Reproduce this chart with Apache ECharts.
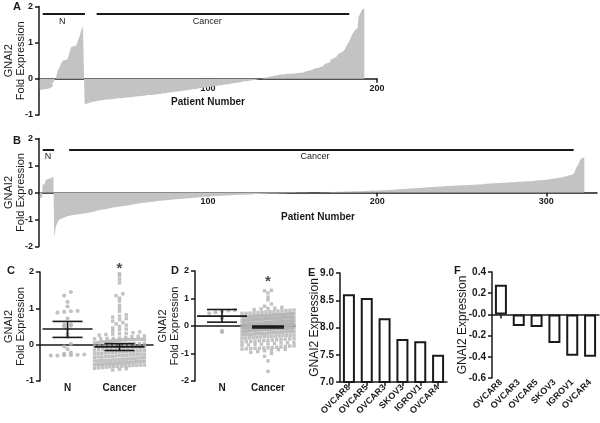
<!DOCTYPE html>
<html><head><meta charset="utf-8">
<script src="https://cdn.jsdelivr.net/npm/echarts@6/dist/echarts.min.js"></script>
<style>html,body{margin:0;padding:0;background:#fff}#c{width:600px;height:423px}</style>
</head><body><div id="c"></div>
<script>
// ---------- data ----------
// Panel A (cohort 1): sorted fold expression per patient
const aNormal = [-0.30,-0.30,-0.29,-0.29,-0.28,-0.27,-0.25,-0.22,-0.12,-0.05,0.02,0.22,0.30,0.42,0.50,0.52,0.55,0.56,0.72,0.88,0.90,0.92,0.93,1.05,1.18,1.35,1.45];
const aCancer = [
 -0.70,-0.68,-0.66,-0.65,-0.64,-0.63,-0.62,-0.61,-0.60,-0.60,-0.59,-0.58,-0.58,
 -0.57,-0.57,-0.56,-0.56,-0.55,-0.55,-0.54,-0.54,-0.53,-0.53,-0.52,-0.52,-0.51,-0.51,-0.50,-0.50,-0.49,-0.49,-0.48,-0.48,
 -0.47,-0.47,-0.46,-0.46,-0.45,-0.45,-0.44,-0.44,-0.43,-0.43,-0.42,-0.42,-0.41,-0.40,-0.40,-0.39,-0.38,-0.38,-0.37,-0.36,
 -0.36,-0.35,-0.34,-0.34,-0.33,-0.32,-0.32,-0.31,-0.30,-0.30,-0.29,-0.28,-0.28,-0.27,-0.26,-0.26,-0.25,-0.24,-0.24,-0.23,
 -0.22,-0.22,-0.21,-0.20,-0.20,-0.19,-0.18,-0.18,-0.17,-0.16,-0.16,-0.15,-0.14,-0.13,-0.13,-0.12,-0.11,-0.10,-0.10,-0.09,
 -0.08,-0.07,-0.07,-0.06,-0.05,-0.04,-0.04,-0.03,-0.02,-0.01,0.00,0.01,0.02,0.03,0.04,
 0.05,0.06,0.07,0.08,0.09,0.10,0.11,0.12,0.12,0.13,0.13,0.14,0.14,0.14,0.15,
 0.15,0.15,0.16,0.16,0.17,0.17,0.18,0.20,0.22,0.23,0.24,0.26,0.28,0.29,0.30,
 0.31,0.33,0.35,0.38,0.41,0.43,0.46,0.50,0.54,0.57,0.61,0.65,0.69,0.72,0.76,
 0.79,0.82,0.92,1.00,1.08,1.20,1.28,1.35,1.40,1.70,1.80,1.90,1.95];
// Panel B (cohort 2)
const bNormal = [-0.22,-0.18,0.28,0.33,0.46,0.50,0.53,0.56,0.58];
const bCancer = [
 -1.65,-1.27,-1.10,-1.00,-0.96,-0.93,-0.90,-0.88,-0.86,-0.85,
 -0.84,-0.83,-0.82,-0.81,-0.81,-0.80,-0.79,-0.78,-0.77,-0.76,
 -0.74,-0.73,-0.72,-0.70,-0.69,-0.67,-0.66,-0.65,-0.63,-0.62,
 -0.61,-0.60,-0.58,-0.57,-0.56,-0.55,-0.54,-0.53,-0.52,-0.51,
 -0.50,-0.49,-0.48,-0.47,-0.46,-0.45,-0.44,-0.43,-0.42,-0.41,
 -0.40,-0.39,-0.38,-0.38,-0.37,-0.36,-0.35,-0.34,-0.34,-0.33,
 -0.32,-0.31,-0.31,-0.30,-0.30,-0.29,-0.28,-0.28,-0.27,-0.27,
 -0.26,-0.25,-0.25,-0.24,-0.24,-0.23,-0.22,-0.22,-0.21,-0.21,
 -0.20,-0.20,-0.19,-0.19,-0.18,-0.18,-0.17,-0.17,-0.16,-0.16,
 -0.15,-0.15,-0.14,-0.14,-0.14,-0.13,-0.13,-0.12,-0.12,-0.12,
 -0.11,-0.11,-0.11,-0.10,-0.10,-0.10,-0.09,-0.09,-0.09,-0.08,
 -0.08,-0.08,-0.08,-0.07,-0.07,-0.07,-0.07,-0.06,-0.06,-0.06,
 -0.06,-0.06,-0.05,-0.05,-0.05,-0.05,-0.05,-0.04,-0.04,-0.04,
 -0.04,-0.04,-0.03,-0.03,-0.03,-0.03,-0.03,-0.02,-0.02,-0.02,
 -0.02,-0.02,-0.02,-0.01,-0.01,-0.01,-0.01,-0.01,-0.01,-0.01,
 -0.01,0.00,0.00,0.00,0.00,0.00,0.01,0.01,0.01,0.01,
 0.01,0.01,0.02,0.02,0.02,0.02,0.03,0.03,0.03,0.03,
 0.03,0.04,0.04,0.04,0.04,0.04,0.05,0.05,0.05,0.05,
 0.05,0.05,0.06,0.06,0.06,0.06,0.06,0.07,0.07,0.07,
 0.07,0.07,0.08,0.08,0.08,0.09,0.09,0.09,0.10,0.10,
 0.10,0.11,0.11,0.12,0.12,0.13,0.13,0.14,0.14,0.15,
 0.15,0.15,0.16,0.16,0.17,0.17,0.17,0.18,0.18,0.19,
 0.19,0.19,0.20,0.20,0.20,0.21,0.21,0.22,0.22,0.22,
 0.23,0.23,0.24,0.24,0.24,0.25,0.25,0.26,0.26,0.26,
 0.27,0.27,0.27,0.28,0.28,0.28,0.29,0.29,0.29,0.30,
 0.30,0.30,0.31,0.31,0.32,0.32,0.32,0.33,0.33,0.34,
 0.34,0.34,0.35,0.35,0.36,0.36,0.36,0.37,0.37,0.38,
 0.38,0.38,0.39,0.39,0.40,0.40,0.40,0.41,0.41,0.42,
 0.42,0.42,0.43,0.43,0.44,0.44,0.45,0.45,0.46,0.46,
 0.47,0.48,0.49,0.50,0.51,0.52,0.53,0.54,0.55,0.56,
 0.57,0.58,0.60,0.62,0.64,0.65,0.68,0.72,0.80,0.95,
 1.05,1.20,1.28,1.30];
// group annotations above waterfalls (patient ranges, label positions)
const groupNames = ['N','Cancer'];
const aGroupStart = [2.2, 34.1], aGroupEnd = [27.2, 183.6], aGroupLabelX = [13.8, 99.5], aGroupLevel = 1.79;
const bGroupStart = [2.2, 17.8], bGroupEnd = [8.9, 316.2], bGroupLabelX = [5.3, 163.2], bGroupLevel = 1.574;
const aTicks = [100, 200], bTicks = [100, 200, 300];
// Panels C / D: mean with error bars
const cMean = [0.43, -0.06], cLower = [0.20, -0.16], cUpper = [0.64, 0.03];
const dMean = [0.36, -0.03], dLower = [0.14, -0.07], dUpper = [0.60, 0.00];
const cStarY = 2.1, dStarY = 1.62;
// Panels E / F
const eCells = ['OVCAR8','OVCAR5','OVCAR3','SKOV3','IGROV1','OVCAR4'];
const eValues = [8.61, 8.54, 8.17, 7.79, 7.75, 7.50];
const fCells = ['OVCAR8','OVCAR3','OVCAR5','SKOV3','IGROV1','OVCAR4'];
const fValues = [0.28, -0.11, -0.12, -0.27, -0.39, -0.40];

// ---------- helpers ----------
const FONT = '"Liberation Sans", Arial, sans-serif';
const INK = '#1a1a1a';
const BAR = '#c3c3c3';
const DOT = '#b3b3b3';

// one bar per patient, centred on its patient slot
function waterfall(normal, cancer) {
  return normal.concat(cancer).map((v, i) => [i + 0.5, v]);
}
// column-scatter layout: points in the same value row are spread sideways
function swarm(values, center, rowH, step, maxW) {
  const rows = new Map();
  values.forEach(v => { const k = Math.round(v / rowH); if (!rows.has(k)) rows.set(k, []); rows.get(k).push(v); });
  const out = [];
  rows.forEach(r => {
    const n = r.length;
    const s = n > 1 ? Math.min(step, maxW / (n - 1)) : 0;
    r.forEach((v, j) => out.push([center + (j - (n - 1) / 2) * s, v]));
  });
  return out;
}
function groupSeries(xi, yi, starts, ends, level, labelXs) {
  return {
    type: 'custom', xAxisIndex: xi, yAxisIndex: yi, clip: false, silent: true, z: 6,
    data: starts.map((s, k) => [s, ends[k], level, labelXs[k]]),
    encode: { x: [0, 1, 3], y: 2 },
    renderItem(params, api) {
      const a = api.coord([api.value(0), api.value(2)]);
      const b = api.coord([api.value(1), api.value(2)]);
      const t = api.coord([api.value(3), api.value(2)]);
      return { type: 'group', children: [
        { type: 'line', shape: { x1: a[0], y1: a[1], x2: b[0], y2: b[1] }, style: { stroke: INK, lineWidth: 2 } },
        { type: 'text', x: t[0], y: t[1] + 2.5, style: { text: groupNames[params.dataIndex], fill: INK, font: '9px ' + FONT, align: 'center', verticalAlign: 'top' } }
      ] };
    }
  };
}
function statSeries(xi, yi, mean, lower, upper, hwMean, hwCap) {
  return {
    type: 'custom', xAxisIndex: xi, yAxisIndex: yi, clip: false, silent: true, z: 8,
    data: mean.map((m, k) => [k + 1, m, lower[k], upper[k]]),
    encode: { x: 0, y: [1, 2, 3] },
    renderItem(params, api) {
      const i = params.dataIndex;
      const x = api.value(0);
      const m = api.coord([x, api.value(1)]);
      const lo = api.coord([x, api.value(2)]);
      const up = api.coord([x, api.value(3)]);
      const st = { stroke: INK, lineWidth: 1.6 };
      return { type: 'group', children: [
        { type: 'line', shape: { x1: m[0] - hwMean[i], y1: m[1], x2: m[0] + hwMean[i], y2: m[1] }, style: st },
        { type: 'line', shape: { x1: lo[0], y1: lo[1], x2: up[0], y2: up[1] }, style: st },
        { type: 'line', shape: { x1: lo[0] - hwCap[i], y1: lo[1], x2: lo[0] + hwCap[i], y2: lo[1] }, style: st },
        { type: 'line', shape: { x1: up[0] - hwCap[i], y1: up[1], x2: up[0] + hwCap[i], y2: up[1] }, style: st }
      ] };
    }
  };
}
const lineStyle = { color: INK, width: 1.5 };
const tick = { show: true, length: 4, lineStyle: lineStyle };
function yAxis(grid, min, max, interval, name, gap, fontSize, fmt) {
  return {
    type: 'value', gridIndex: grid, min, max, interval,
    axisLine: { show: true, lineStyle },
    axisTick: tick, splitLine: { show: false },
    axisLabel: { color: INK, fontWeight: 'bold', fontSize, fontFamily: FONT, margin: 6, formatter: fmt },
    name, nameLocation: 'middle', nameRotate: 90, nameGap: gap, nameMoveOverlap: false,
    nameTextStyle: { color: INK, fontSize: name.indexOf('\n') >= 0 ? 11 : 12, fontFamily: FONT, lineHeight: 12 }
  };
}
function hiddenY(grid, min, max) {
  return { type: 'value', gridIndex: grid, min, max, show: false, splitLine: { show: false } };
}
const grids = [
  { left: 39, top: 6.5, width: 338, height: 108.5 },   // 0 A
  { left: 39, top: 138.5, width: 558, height: 108 },   // 1 B
  { left: 40, top: 272, width: 113, height: 109 },     // 2 C
  { left: 195, top: 271, width: 100, height: 110 },    // 3 D
  { left: 340, top: 273, width: 107, height: 109 },    // 4 E
  { left: 492, top: 272, width: 107, height: 106 },    // 5 F
  // axis-carrier grids whose bottom edge is the zero line of A, B and F
  { left: 39, top: 6.5, width: 338, height: 108.5 * 2 / 3 },  // 6 A zero axis
  { left: 39, top: 138.5, width: 558, height: 108 / 2 },      // 7 B zero axis
  { left: 492, top: 272, width: 107, height: 106 * 0.4 }      // 8 F zero axis
].map(g => Object.assign({ containLabel: false, outerBoundsMode: 'none' }, g));

const cMin = 0.47, cMax = 2.645, dMin = 0.413, dMax = 2.587;
const catFmt = v => groupNames[Math.round(v) - 1];
const noLine = { show: false, onZero: false };
// contiguous patient bars drawn as a stepped filled profile (no seams between 1.7px bars)
const waterfallSeries = { type: 'line', step: 'middle', symbol: 'none', silent: true, z: 2,
  lineStyle: { width: 0, color: BAR }, areaStyle: { color: BAR, opacity: 1, origin: 0 } };

const option = {
  animation: false,
  backgroundColor: '#fff',
  textStyle: { fontFamily: FONT },
  title: [['A', 13, 1], ['B', 13, 135], ['C', 7, 265], ['D', 171, 265], ['E', 308, 267], ['F', 454, 265]].map(t => ({
    text: t[0], left: t[1], top: t[2], padding: 0,
    textStyle: { fontSize: 11, fontWeight: 'bold', color: INK, fontFamily: FONT }
  })),
  grid: grids,
  xAxis: [
    // 0,1: scales for the waterfall bars (hidden)
    { type: 'value', gridIndex: 0, min: 0, max: 200, show: false, splitLine: { show: false } },
    { type: 'value', gridIndex: 1, min: 0, max: 330, show: false, splitLine: { show: false } },
    // 2,3: C zero line + category labels
    { type: 'value', gridIndex: 2, min: cMin, max: cMax, axisLine: { show: true, onZero: true, lineStyle }, axisTick: { show: false }, axisLabel: { show: false }, splitLine: { show: false } },
    { type: 'value', gridIndex: 2, min: cMin, max: cMax, position: 'bottom', axisLine: noLine, axisTick: { show: false }, splitLine: { show: false },
      axisLabel: { customValues: [1, 2], formatter: catFmt, color: INK, fontWeight: 'bold', fontSize: 10, margin: 2 } },
    // 4,5: D
    { type: 'value', gridIndex: 3, min: dMin, max: dMax, axisLine: { show: true, onZero: true, lineStyle }, axisTick: { show: false }, axisLabel: { show: false }, splitLine: { show: false } },
    { type: 'value', gridIndex: 3, min: dMin, max: dMax, position: 'bottom', axisLine: noLine, axisTick: { show: false }, splitLine: { show: false },
      axisLabel: { customValues: [1, 2], formatter: catFmt, color: INK, fontWeight: 'bold', fontSize: 10, margin: 2 } },
    // 6: E
    { type: 'category', gridIndex: 4, data: eCells, axisLine: { show: true, onZero: false, lineStyle },
      axisTick: Object.assign({ alignWithLabel: true }, tick),
      axisLabel: { rotate: 45, color: INK, fontWeight: 'bold', fontSize: 9, margin: 4, interval: 0 } },
    // 7: F bars + bottom labels
    { type: 'category', gridIndex: 5, data: fCells, position: 'bottom', axisLine: noLine, axisTick: { show: false },
      axisLabel: { rotate: 45, color: INK, fontWeight: 'bold', fontSize: 9, margin: 3, interval: 0 } },
    // 8: A patient axis on the zero line
    { type: 'value', gridIndex: 6, min: 0, max: 200, position: 'bottom', axisLine: { show: true, onZero: false, lineStyle },
      axisTick: Object.assign({ customValues: aTicks }, tick), splitLine: { show: false },
      axisLabel: { customValues: aTicks, color: INK, fontWeight: 'bold', fontSize: 9, margin: 5 },
      name: 'Patient Number', nameLocation: 'middle', nameGap: 18, nameMoveOverlap: false,
      nameTextStyle: { color: INK, fontWeight: 'bold', fontSize: 10, fontFamily: FONT } },
    // 9: B patient axis on the zero line
    { type: 'value', gridIndex: 7, min: 0, max: 330, position: 'bottom', axisLine: { show: true, onZero: false, lineStyle },
      axisTick: Object.assign({ customValues: bTicks }, tick), splitLine: { show: false },
      axisLabel: { customValues: bTicks, color: INK, fontWeight: 'bold', fontSize: 9, margin: 5 },
      name: 'Patient Number', nameLocation: 'middle', nameGap: 20, nameMoveOverlap: false,
      nameTextStyle: { color: INK, fontWeight: 'bold', fontSize: 10, fontFamily: FONT } },
    // 10: F zero line with ticks
    { type: 'category', gridIndex: 8, data: fCells, position: 'bottom', axisLine: { show: true, onZero: false, lineStyle },
      axisTick: Object.assign({ alignWithLabel: true }, tick), axisLabel: { show: false } }
  ],
  yAxis: [
    yAxis(0, -1, 2, 1, 'GNAI2\nFold Expression', 12, 9),
    yAxis(1, -2, 2, 1, 'GNAI2\nFold Expression', 12, 9),
    yAxis(2, -1, 2, 1, 'GNAI2\nFold Expression', 13, 9),
    yAxis(3, -2, 2, 1, 'GNAI2\nFold Expression', 14, 9),
    yAxis(4, 7, 9, 0.5, 'GNAI2 Expression', 19, 10, v => v.toFixed(1)),
    yAxis(5, -0.6, 0.4, 0.2, 'GNAI2 Expression', 23, 10, v => Math.abs(v) < 1e-9 ? '-0.0' : v.toFixed(1)),
    hiddenY(6, 0, 2), hiddenY(7, 0, 2), hiddenY(8, 0, 0.4)
  ],
  series: [
    Object.assign({ xAxisIndex: 0, yAxisIndex: 0, data: waterfall(aNormal, aCancer) }, waterfallSeries),
    groupSeries(0, 0, aGroupStart, aGroupEnd, aGroupLevel, aGroupLabelX),
    Object.assign({ xAxisIndex: 1, yAxisIndex: 1, data: waterfall(bNormal, bCancer) }, waterfallSeries),
    groupSeries(1, 1, bGroupStart, bGroupEnd, bGroupLevel, bGroupLabelX),
    // C
    { type: 'scatter', xAxisIndex: 2, yAxisIndex: 2, symbol: 'circle', symbolSize: 4.2, itemStyle: { color: DOT },
      data: swarm(aNormal, 1, 0.1, 0.129, 0.77), clip: false, silent: true },
    { type: 'scatter', xAxisIndex: 2, yAxisIndex: 2, symbol: 'rect', symbolSize: 3.4, itemStyle: { color: DOT },
      data: swarm(aCancer, 2, 0.1, 0.13, 0.96), clip: false, silent: true },
    statSeries(2, 2, cMean, cLower, cUpper, [25, 25], [15, 15]),
    { type: 'scatter', xAxisIndex: 2, yAxisIndex: 2, symbolSize: 0, clip: false, silent: true, data: [[2, cStarY]],
      label: { show: true, position: 'inside', formatter: '*', fontSize: 15, fontWeight: 'bold', color: INK } },
    // D
    { type: 'scatter', xAxisIndex: 4, yAxisIndex: 3, symbol: 'circle', symbolSize: 4.2, itemStyle: { color: DOT },
      data: swarm(bNormal, 1, 0.13, 0.14, 0.6), clip: false, silent: true },
    { type: 'scatter', xAxisIndex: 4, yAxisIndex: 3, symbol: 'rect', symbolSize: 3.4, itemStyle: { color: DOT },
      data: swarm(bCancer, 2, 0.13, 0.15, 1.13), clip: false, silent: true },
    statSeries(4, 3, dMean, dLower, dUpper, [25, 16], [15, 16]),
    { type: 'scatter', xAxisIndex: 4, yAxisIndex: 3, symbolSize: 0, clip: false, silent: true, data: [[2, dStarY]],
      label: { show: true, position: 'inside', formatter: '*', fontSize: 15, fontWeight: 'bold', color: INK } },
    // E
    { type: 'bar', xAxisIndex: 6, yAxisIndex: 4, data: eValues, barWidth: 12, clip: true,
      itemStyle: { color: '#fff', borderColor: INK, borderWidth: 2 }, silent: true },
    // F
    { type: 'bar', xAxisIndex: 7, yAxisIndex: 5, data: fValues, barWidth: 12,
      itemStyle: { color: '#fff', borderColor: INK, borderWidth: 2 }, silent: true, z: 1 }
  ]
};
const chart = echarts.init(document.getElementById('c'), null, { renderer: 'canvas' });
chart.setOption(option);
</script></body></html>
